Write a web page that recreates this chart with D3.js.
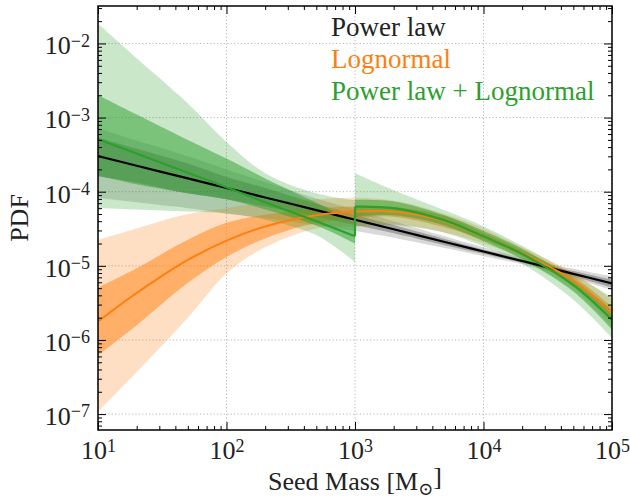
<!DOCTYPE html>
<html>
<head>
<meta charset="utf-8">
<script src="https://cdn.jsdelivr.net/npm/d3@7"></script>
<style>
  body { margin: 0; background: #fff; }
  svg text { font-family: "Liberation Serif", "DejaVu Serif", serif; }
</style>
</head>
<body>
<div id="my_dataviz"></div>
<script>
// seed mass grid (M_sun)
var mass = [10, 20, 50, 100, 200, 500, 1000, 2000, 5000, 1e4, 2e4, 5e4, 1e5];

// power law: median, inner and outer bands
var plMid     = [3.02e-4, 2.24e-4, 1.51e-4, 1.12e-4, 8.36e-5, 5.64e-5, 4.19e-5, 3.11e-5, 2.10e-5, 1.56e-5, 1.16e-5, 7.8e-6, 5.8e-6];
var plInnerLo = [1.62e-4, 1.32e-4, 9.5e-5, 7.9e-5, 6.3e-5, 4.6e-5, 3.55e-5, 2.75e-5, 1.9e-5, 1.45e-5, 1.1e-5, 7.2e-6, 5.1e-6];
var plInnerHi = [5.4e-4, 3.8e-4, 2.4e-4, 1.58e-4, 1.12e-4, 6.9e-5, 4.9e-5, 3.55e-5, 2.3e-5, 1.66e-5, 1.23e-5, 8.5e-6, 6.5e-6];
var plOuterLo = [8.3e-5, 7.2e-5, 6.0e-5, 5.1e-5, 4.4e-5, 3.55e-5, 2.95e-5, 2.4e-5, 1.74e-5, 1.35e-5, 1.05e-5, 6.8e-6, 4.7e-6];
var plOuterHi = [7.2e-4, 4.9e-4, 3.0e-4, 2.0e-4, 1.35e-4, 8.1e-5, 5.75e-5, 4.0e-5, 2.5e-5, 1.78e-5, 1.29e-5, 9.1e-6, 7.2e-6];

// lognormal
var lnMid     = [1.78e-6, 4.3e-6, 1.2e-5, 2.19e-5, 3.4e-5, 4.8e-5, 5.4e-5, 5.4e-5, 4.0e-5, 2.5e-5, 1.48e-5, 6.3e-6, 2.3e-6];
var lnInnerLo = [6.2e-7, 1.58e-6, 5.9e-6, 1.32e-5, 2.34e-5, 3.8e-5, 4.4e-5, 4.6e-5, 3.3e-5, 2.24e-5, 1.35e-5, 5.5e-6, 1.86e-6];
var lnInnerHi = [5.1e-6, 9.3e-6, 2.24e-5, 3.8e-5, 4.9e-5, 5.9e-5, 6.3e-5, 6.2e-5, 4.7e-5, 2.8e-5, 1.62e-5, 7.2e-6, 2.8e-6];
var lnOuterLo = [1.08e-7, 3.7e-7, 2.0e-6, 7.9e-6, 1.78e-5, 3.2e-5, 3.4e-5, 3.6e-5, 2.8e-5, 2.0e-5, 1.23e-5, 4.8e-6, 1.51e-6];
var lnOuterHi = [2.24e-5, 3.2e-5, 5.0e-5, 6.0e-5, 7.2e-5, 7.9e-5, 8.3e-5, 7.6e-5, 5.0e-5, 3.2e-5, 1.78e-5, 8.1e-6, 3.5e-6];

// power law + lognormal, split at 1e3
var massLow  = [10, 20, 50, 100, 200, 500, 1000];
var massHigh = [1000, 2000, 5000, 1e4, 2e4, 5e4, 1e5];
var cbLowMid     = [5.1e-4, 3.27e-4, 1.80e-4, 1.15e-4, 7.2e-5, 4.0e-5, 2.5e-5];
var cbLowInnerLo = [1.66e-4, 1.26e-4, 9.5e-5, 7.9e-5, 5.75e-5, 3.5e-5, 2.0e-5];
var cbLowInnerHi = [2.0e-3, 1.1e-3, 5.0e-4, 2.8e-4, 1.51e-4, 7.1e-5, 3.8e-5];
var cbLowOuterLo = [6.0e-5, 5.75e-5, 5.4e-5, 5.1e-5, 4.2e-5, 2.6e-5, 1.12e-5];
var cbLowOuterHi = [1.86e-2, 6.3e-3, 1.55e-3, 4.7e-4, 1.78e-4, 9.5e-5, 7.6e-5];
var cbHighMid     = [6.3e-5, 6.0e-5, 4.1e-5, 2.5e-5, 1.45e-5, 5.5e-6, 1.86e-6];
var cbHighInnerLo = [4.6e-5, 4.8e-5, 3.5e-5, 2.14e-5, 1.23e-5, 4.5e-6, 1.38e-6];
var cbHighInnerHi = [7.8e-5, 7.4e-5, 4.8e-5, 2.95e-5, 1.7e-5, 6.6e-6, 2.5e-6];
var cbHighOuterLo = [3.4e-5, 3.55e-5, 2.8e-5, 1.82e-5, 1.07e-5, 3.5e-6, 1.07e-6];
var cbHighOuterHi = [1.78e-4, 1.05e-4, 5.6e-5, 3.4e-5, 1.86e-5, 7.6e-6, 3.8e-6];

var xMajor = [1e1, 1e2, 1e3, 1e4, 1e5];
var yMajor = [1e-7, 1e-6, 1e-5, 1e-4, 1e-3, 1e-2];
var legendLabels = ["Power law", "Lognormal", "Power law + Lognormal"];
var colors = ["#000000", "#ff7f0e", "#2ca02c"];

var serif = "'Liberation Serif', 'DejaVu Serif', serif";

var margin = {top: 6, right: 18, bottom: 68, left: 98},
    width = 630 - margin.left - margin.right,
    height = 498 - margin.top - margin.bottom;

var svg = d3.select("#my_dataviz")
  .append("svg")
    .attr("width", width + margin.left + margin.right)
    .attr("height", height + margin.top + margin.bottom)
  .append("g")
    .attr("transform", "translate(" + margin.left + "," + margin.top + ")");

var x = d3.scaleLog().domain([10, 1e5]).range([0, width]);
var y = d3.scaleLog().domain([6.1e-8, 3.2e-2]).range([height, 0]);

function isMajor(d) { return Math.abs(Math.log10(d) - Math.round(Math.log10(d))) < 1e-6; }
var xMinor = x.ticks().filter(function(d) { return !isMajor(d); });
var yMinor = y.ticks().filter(function(d) { return !isMajor(d); });

// grid
svg.append("g").selectAll("line").data(xMajor).enter().append("line")
  .attr("x1", function(d) { return x(d) }).attr("x2", function(d) { return x(d) })
  .attr("y1", 0).attr("y2", height)
  .attr("stroke", "#b0b0b0").attr("stroke-width", 0.9).attr("stroke-dasharray", "1.2,2.2");
svg.append("g").selectAll("line").data(yMajor).enter().append("line")
  .attr("y1", function(d) { return y(d) }).attr("y2", function(d) { return y(d) })
  .attr("x1", 0).attr("x2", width)
  .attr("stroke", "#b0b0b0").attr("stroke-width", 0.9).attr("stroke-dasharray", "1.2,2.2");

svg.append("clipPath").attr("id", "clip")
  .append("rect").attr("width", width).attr("height", height);
var plot = svg.append("g").attr("clip-path", "url(#clip)");

function zip(ms, lo, hi) {
  return ms.map(function(m, i) { return {m: m, lo: lo[i], hi: hi[i]}; });
}
var smooth = d3.curveCatmullRom.alpha(0.5);
var area = d3.area()
  .x(function(d) { return x(d.m) })
  .y0(function(d) { return y(d.lo) })
  .y1(function(d) { return y(d.hi) })
  .curve(smooth);
var line = d3.line()
  .x(function(d) { return x(d.m) })
  .y(function(d) { return y(d.lo) })
  .curve(smooth);

function band(ms, lo, hi, color, op) {
  plot.append("path").datum(zip(ms, lo, hi))
    .attr("fill", color).attr("fill-opacity", op).attr("stroke", "none")
    .attr("d", area);
}
function curve(ms, v, color, w) {
  plot.append("path").datum(zip(ms, v, v))
    .attr("fill", "none").attr("stroke", color).attr("stroke-width", w)
    .attr("stroke-linejoin", "round")
    .attr("d", line);
}

band(mass, plOuterLo, plOuterHi, colors[0], 0.15);
band(mass, plInnerLo, plInnerHi, colors[0], 0.25);
band(mass, lnOuterLo, lnOuterHi, colors[1], 0.25);
band(mass, lnInnerLo, lnInnerHi, colors[1], 0.5);
band(massLow, cbLowOuterLo, cbLowOuterHi, colors[2], 0.25);
band(massLow, cbLowInnerLo, cbLowInnerHi, colors[2], 0.5);
band(massHigh, cbHighOuterLo, cbHighOuterHi, colors[2], 0.25);
band(massHigh, cbHighInnerLo, cbHighInnerHi, colors[2], 0.5);

curve(mass, plMid, colors[0], 2.2);
curve(mass, lnMid, colors[1], 2);
curve(massLow, cbLowMid, colors[2], 2.2);
curve(massHigh, cbHighMid, colors[2], 2.2);
// jump of the combined median at 1e3
plot.append("line")
  .attr("x1", x(massLow[massLow.length - 1])).attr("x2", x(massHigh[0]))
  .attr("y1", y(cbLowMid[cbLowMid.length - 1])).attr("y2", y(cbHighMid[0]))
  .attr("stroke", colors[2]).attr("stroke-width", 2.2);

// axes (ticks inward on all sides)
function supLabels(sel) {
  sel.selectAll("text").each(function(d) {
    var e = Math.round(Math.log10(d));
    var t = d3.select(this).text("10");
    t.append("tspan").attr("dy", "-0.42em").attr("font-size", "18px")
      .text(e < 0 ? "\u2212" + (-e) : e);
  });
}
function clean(g) {
  g.attr("font-family", serif);
  g.select(".domain").remove();
  g.selectAll("line").attr("stroke", "#000").attr("stroke-width", 1);
}

svg.append("g").attr("transform", "translate(0," + height + ")")
  .call(d3.axisBottom(x).tickValues(xMinor).tickSize(-4).tickFormat("")).call(clean);
svg.append("g").attr("transform", "translate(0," + height + ")")
  .call(d3.axisBottom(x).tickValues(xMajor).tickSize(-8).tickPadding(11))
  .call(clean)
  .call(function(g) { g.selectAll("text").attr("font-size", "26px").attr("fill", "#222").attr("dy", "0.71em"); })
  .call(supLabels);
svg.append("g")
  .call(d3.axisTop(x).tickValues(xMinor).tickSize(-4).tickFormat("")).call(clean);
svg.append("g")
  .call(d3.axisTop(x).tickValues(xMajor).tickSize(-8).tickFormat("")).call(clean);

svg.append("g")
  .call(d3.axisLeft(y).tickValues(yMinor).tickSize(-4).tickFormat("")).call(clean);
svg.append("g")
  .call(d3.axisLeft(y).tickValues(yMajor).tickSize(-8).tickPadding(8))
  .call(clean)
  .call(function(g) { g.selectAll("text").attr("font-size", "26px").attr("fill", "#222").attr("dy", "0.40em"); })
  .call(supLabels);
svg.append("g").attr("transform", "translate(" + width + ",0)")
  .call(d3.axisRight(y).tickValues(yMinor).tickSize(-4).tickFormat("")).call(clean);
svg.append("g").attr("transform", "translate(" + width + ",0)")
  .call(d3.axisRight(y).tickValues(yMajor).tickSize(-8).tickFormat("")).call(clean);

// frame
svg.append("rect").attr("width", width).attr("height", height)
  .attr("fill", "none").attr("stroke", "#000").attr("stroke-width", 1.5);

// axis titles
var xt = svg.append("text")
  .attr("x", width / 2).attr("y", height + 60)
  .attr("text-anchor", "middle").attr("font-size", "26px").attr("fill", "#222")
  .attr("font-family", serif)
  .text("Seed Mass [M");
xt.append("tspan").attr("dy", "0.25em").attr("font-size", "18px").text("\u2299");
xt.append("tspan").attr("dy", "-0.35em").text("]");

svg.append("text")
  .attr("transform", "translate(" + (28 - margin.left) + "," + (height / 2) + ") rotate(-90)")
  .attr("text-anchor", "middle").attr("font-size", "26px").attr("fill", "#222")
  .attr("font-family", serif)
  .text("PDF");

// legend (text only)
svg.selectAll(".legend").data(legendLabels).enter().append("text")
  .attr("class", "legend")
  .attr("x", 233).attr("y", function(d, i) { return 30 + i * 32; })
  .attr("font-size", "27px")
  .attr("font-family", serif)
  .attr("fill", function(d, i) { return i == 0 ? "#222" : colors[i]; })
  .text(function(d) { return d; });
</script>
</body>
</html>
